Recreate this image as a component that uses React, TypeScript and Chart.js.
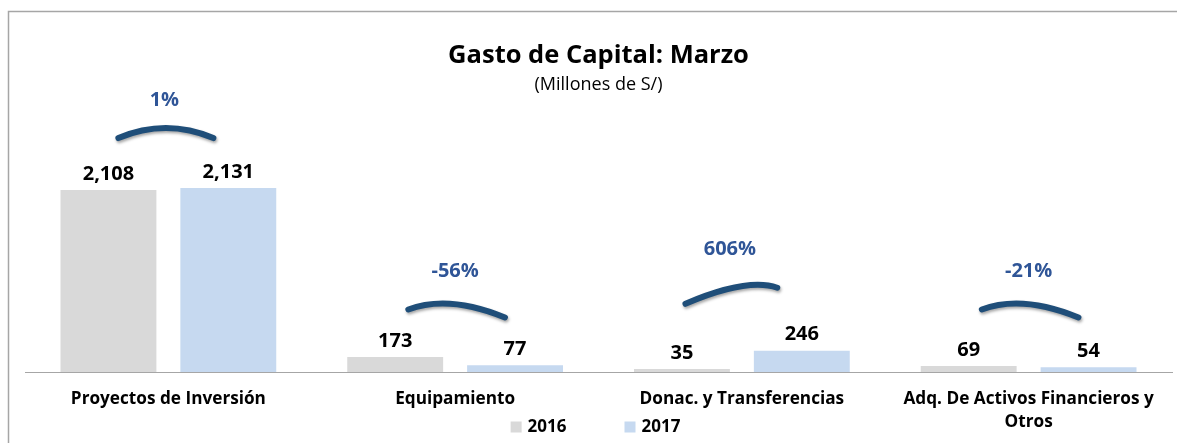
import React, { useEffect, useRef } from "react";
import { Chart, registerables } from "chart.js";

Chart.register(...registerables);

const categories = [
  "Proyectos de Inversión",
  "Equipamiento",
  "Donac. y Transferencias",
  "Adq. De Activos Financieros y\nOtros",
];
const seriesNames = ["2016", "2017"];
const values2016 = [2108, 173, 35, 69];
const values2017 = [2131, 77, 246, 54];
const changeLabels = ["1%", "-56%", "606%", "-21%"];
const titleText = "Gasto de Capital: Marzo";
const subtitleText = "(Millones de S/)";

const FONT = "'Open Sans'";
const COLOR_2016 = "#d9d9d9";
const COLOR_2017 = "#c6d9f0";
const ARC_COLOR = "#1f4e79";
const PCT_COLOR = "#2f5597";
const FRAME_COLOR = "#a6a6a6";

const framePlugin = {
  id: "frame",
  beforeDraw(chart: any) {
    const { ctx, width, height } = chart;
    ctx.save();
    ctx.strokeStyle = FRAME_COLOR;
    ctx.lineWidth = 1.5;
    ctx.beginPath();
    ctx.moveTo(8.5, height);
    ctx.lineTo(8.5, 11.5);
    ctx.lineTo(width, 11.5);
    ctx.stroke();
    ctx.restore();
  },
};

const valueLabelPlugin = {
  id: "valueLabels",
  afterDatasetsDraw(chart: any) {
    const { ctx } = chart;
    ctx.save();
    ctx.font = `bold 20px ${FONT}`;
    ctx.fillStyle = "#000";
    ctx.textAlign = "center";
    ctx.textBaseline = "middle";
    chart.data.datasets.forEach((ds: any, di: number) => {
      const meta = chart.getDatasetMeta(di);
      meta.data.forEach((bar: any, i: number) => {
        const v = ds.data[i];
        ctx.fillText(Number(v).toLocaleString("en-US"), bar.x, bar.y - 16);
      });
    });
    ctx.restore();
  },
};

const arcPlugin = {
  id: "changeArcs",
  afterDatasetsDraw(chart: any) {
    const { ctx } = chart;
    const yScale = chart.scales.y;
    const m0 = chart.getDatasetMeta(0);
    const m1 = chart.getDatasetMeta(1);
    const capTop = yScale.getPixelForValue(180);
    categories.forEach((_, i) => {
      const b0 = m0.data[i];
      const b1 = m1.data[i];
      const cx = (b0.x + b1.x) / 2;
      const maxTop = Math.min(b0.y, b1.y);
      const base = Math.min(maxTop, capTop) - 50;
      const change = (values2017[i] - values2016[i]) / values2016[i];
      const tilt = change > 0.05 ? -16 : change < -0.05 ? 8 : 0;
      const Lx = cx - 50 + tilt * 0.4;
      const Ly = base + (tilt ? 3 : 0);
      const Rx = cx + 45 + tilt * 0.6;
      const Ry = Ly + tilt;
      const Cx = (Lx + Rx) / 2 - tilt;
      const Cy = Math.min(Ly, Ry) - 20 + Math.abs(tilt) * 0.6;

      ctx.save();
      ctx.strokeStyle = ARC_COLOR;
      ctx.lineWidth = 6;
      ctx.lineCap = "round";
      ctx.shadowColor = "rgba(0,0,0,0.35)";
      ctx.shadowBlur = 3;
      ctx.shadowOffsetX = 1;
      ctx.shadowOffsetY = 2;
      ctx.beginPath();
      ctx.moveTo(Lx, Ly);
      ctx.quadraticCurveTo(Cx, Cy, Rx, Ry);
      ctx.stroke();
      ctx.restore();

      ctx.save();
      ctx.font = `bold 20px ${FONT}`;
      ctx.fillStyle = PCT_COLOR;
      ctx.textAlign = "center";
      ctx.textBaseline = "middle";
      ctx.fillText(changeLabels[i], cx - 4 + tilt * 0.5, Math.min(Ly, Ry) - 38);
      ctx.restore();
    });
  },
};

const legendPlugin = {
  id: "customLegend",
  afterDraw(chart: any) {
    const { ctx, chartArea } = chart;
    const box = 11;
    const gap = 6;
    const itemGap = 58;
    const y = 427;
    ctx.save();
    ctx.font = `bold 17px ${FONT}`;
    ctx.textBaseline = "middle";
    ctx.textAlign = "left";
    const items = chart.data.datasets.map((ds: any) => ({
      label: ds.label,
      color: ds.backgroundColor,
      w: box + gap + ctx.measureText(ds.label).width,
    }));
    const total = items.reduce((s: number, it: any) => s + it.w, 0) + itemGap * (items.length - 1);
    let x = (chartArea.left + chartArea.right) / 2 - total / 2 - 3;
    items.forEach((it: any) => {
      ctx.fillStyle = it.color;
      ctx.fillRect(x, y - box / 2, box, box);
      ctx.fillStyle = "#000";
      ctx.fillText(it.label, x + box + gap, y);
      x += it.w + itemGap;
    });
    ctx.restore();
  },
};

export default function App() {
  const ref = useRef<HTMLCanvasElement | null>(null);

  useEffect(() => {
    if (!ref.current) return;
    const chart = new Chart(ref.current, {
      type: "bar",
      data: {
        labels: categories,
        datasets: [
          {
            label: seriesNames[0],
            data: values2016,
            backgroundColor: COLOR_2016,
            categoryPercentage: 0.836,
            barPercentage: 0.8,
          },
          {
            label: seriesNames[1],
            data: values2017,
            backgroundColor: COLOR_2017,
            categoryPercentage: 0.836,
            barPercentage: 0.8,
          },
        ],
      },
      options: {
        animation: false,
        responsive: false,
        devicePixelRatio: 1,
        layout: { padding: { left: 25, right: 5, top: 0, bottom: 0 } },
        plugins: {
          legend: { display: false },
          tooltip: { enabled: false },
          title: {
            display: true,
            text: titleText,
            color: "#000",
            font: { family: FONT, size: 25.5, weight: "bold", lineHeight: 1.2 },
            padding: { top: 40, bottom: 2 },
          },
          subtitle: {
            display: true,
            text: subtitleText,
            color: "#000",
            font: { family: FONT, size: 18, weight: "normal", lineHeight: 1.2 },
            padding: { top: 1, bottom: 61 },
          },
        },
        scales: {
          y: {
            display: false,
            min: 0,
            max: 2500,
          },
          x: {
            grid: { display: false, drawTicks: false },
            border: { display: true, color: FRAME_COLOR, width: 1 },
            ticks: {
              color: "#000",
              font: { family: FONT, size: 17.2, weight: "bold", lineHeight: 1.35 },
              padding: 15,
              autoSkip: false,
              maxRotation: 0,
              callback: function (this: any, value: any) {
                const lbl = this.getLabelForValue(value) as string;
                return lbl.includes("\n") ? lbl.split("\n") : lbl;
              },
            },
            afterFit: (scale: any) => {
              scale.height = 71;
            },
          },
        },
      },
      plugins: [framePlugin, valueLabelPlugin, arcPlugin, legendPlugin],
    });
    return () => chart.destroy();
  }, []);

  return (
    <div style={{ position: "absolute", left: 0, top: 0, width: 1177, height: 443, background: "#fff" }}>
      <canvas ref={ref} width={1177} height={443} style={{ display: "block" }} />
    </div>
  );
}
